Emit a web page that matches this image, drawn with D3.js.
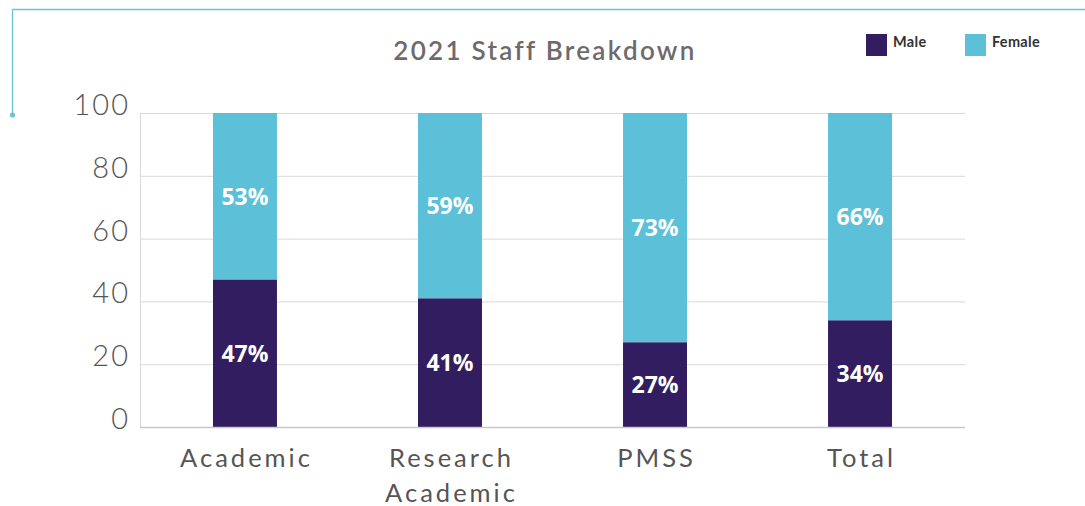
<!DOCTYPE html>
<html>
<head>
<meta charset="utf-8">
<script src="https://cdn.jsdelivr.net/npm/d3@7"></script>
<style>
  html, body { margin: 0; padding: 0; background: #ffffff; }
  svg { display: block; }
</style>
</head>
<body>
<svg id="chart" width="1085" height="506"></svg>
<script>
// Staff breakdown by gender, 2021 (percent of each staff group)
const categories = ["Academic", "Research Academic", "PMSS", "Total"];
const categoryLines = [["Academic"], ["Research", "Academic"], ["PMSS"], ["Total"]];
const maleValues = [47, 41, 27, 34];
const femaleValues = [53, 59, 73, 66];
const seriesNames = ["Male", "Female"];
const yTicks = [0, 20, 40, 60, 80, 100];

const colors = { Male: "#311d5f", Female: "#5bc0d8" };

const svg = d3.select("#chart");
const W = 1085, H = 506;
const margin = { top: 113, right: 120, bottom: 79, left: 140 };
const plotW = W - margin.left - margin.right;
const plotH = H - margin.top - margin.bottom;

// Decorative bracket line in the top-left corner
svg.append("path")
  .attr("d", "M1085,9.5 L12.5,9.5 L12.5,115")
  .attr("fill", "none")
  .attr("stroke", "#6cc3d8")
  .attr("stroke-width", 1.3);
svg.append("circle")
  .attr("cx", 12.5).attr("cy", 115).attr("r", 2.6)
  .attr("fill", "#6cc3d8");

const x = d3.scaleBand()
  .domain(categories)
  .range([0, plotW])
  .paddingInner(0.688)
  .paddingOuter(0.356);

const y = d3.scaleLinear()
  .domain([0, 100])
  .range([plotH, 0]);

const g = svg.append("g").attr("transform", `translate(${margin.left},${margin.top})`);

// Horizontal gridlines
g.append("g")
  .selectAll("line")
  .data(yTicks.filter(t => t > 0))
  .join("line")
  .attr("x1", 0).attr("x2", plotW)
  .attr("y1", d => y(d) + 0.5).attr("y2", d => y(d) + 0.5)
  .attr("stroke", "#d9d9d9")
  .attr("stroke-width", 1);

// Left axis line
g.append("line")
  .attr("x1", 0.5).attr("x2", 0.5)
  .attr("y1", y(100)).attr("y2", y(0))
  .attr("stroke", "#d9d9d9");

// Stacked data
const rows = categories.map((c, i) => ({ category: c, Male: maleValues[i], Female: femaleValues[i] }));
const stack = d3.stack().keys(seriesNames);
const layers = stack(rows);

const layerG = g.selectAll("g.layer")
  .data(layers)
  .join("g")
  .attr("class", "layer")
  .attr("fill", d => colors[d.key]);

layerG.selectAll("rect")
  .data(d => d)
  .join("rect")
  .attr("x", d => x(d.data.category))
  .attr("width", x.bandwidth())
  .attr("y", d => y(d[1]))
  .attr("height", d => y(d[0]) - y(d[1]));

// Value labels centred in each segment
layerG.selectAll("text")
  .data(d => d.map(p => ({ p, key: d.key })))
  .join("text")
  .attr("x", d => x(d.p.data.category) + x.bandwidth() / 2)
  .attr("y", d => (y(d.p[0]) + y(d.p[1])) / 2)
  .attr("dy", "0.38em")
  .attr("text-anchor", "middle")
  .attr("fill", "#ffffff")
  .attr("font-family", "'Open Sans', sans-serif")
  .attr("font-weight", 700)
  .attr("font-size", 23)
  .text(d => d.p.data[d.key] + "%");

// Bottom axis line
g.append("line")
  .attr("x1", 0).attr("x2", plotW)
  .attr("y1", y(0) + 0.5).attr("y2", y(0) + 0.5)
  .attr("stroke", "#c8c8c8")
  .attr("stroke-width", 1.5);

// Y axis
const yAxis = d3.axisLeft(y).tickValues(yTicks).tickSize(0).tickPadding(10);
g.append("g")
  .call(yAxis)
  .call(a => a.select(".domain").remove())
  .selectAll("text")
  .attr("fill", "#555555")
  .attr("font-family", "Lato, sans-serif")
  .attr("font-weight", 300)
  .attr("font-size", 29)
  .attr("letter-spacing", 2)
  .attr("dy", "0.05em");

// X axis (category labels, multi-line)
const xAxis = d3.axisBottom(x).tickSize(0).tickFormat("");
const xg = g.append("g").attr("transform", `translate(0,${plotH})`).call(xAxis);
xg.select(".domain").remove();
xg.selectAll(".tick").each(function(d, i) {
  const t = d3.select(this).append("text")
    .attr("fill", "#555555")
    .attr("font-family", "Lato, sans-serif")
    .attr("font-weight", 400)
    .attr("font-size", 25.5)
    .attr("letter-spacing", 3)
    .attr("text-anchor", "middle");
  categoryLines[i].forEach((line, k) => {
    t.append("tspan").attr("x", 1.5).attr("y", 40 + k * 35).text(line);
  });
});

// Title
svg.append("text")
  .attr("x", 545).attr("y", 60)
  .attr("text-anchor", "middle")
  .attr("fill", "#6e6a6b")
  .attr("font-family", "Lato, sans-serif")
  .attr("font-weight", 600)
  .attr("font-size", 26)
  .attr("letter-spacing", 2.3)
  .text("2021 Staff Breakdown");

// Legend
const legendX = [866, 965];
const legend = svg.append("g");
seriesNames.forEach((name, i) => {
  const lg = legend.append("g").attr("transform", `translate(${legendX[i]},34)`);
  lg.append("rect").attr("width", 21).attr("height", 22).attr("fill", colors[name]);
  lg.append("text")
    .attr("x", 27).attr("y", 13)
    .attr("fill", "#333333")
    .attr("font-family", "Lato, sans-serif")
    .attr("font-weight", 700)
    .attr("font-size", 14.5)
    .attr("letter-spacing", 0.3)
    .text(name);
});
</script>
</body>
</html>
